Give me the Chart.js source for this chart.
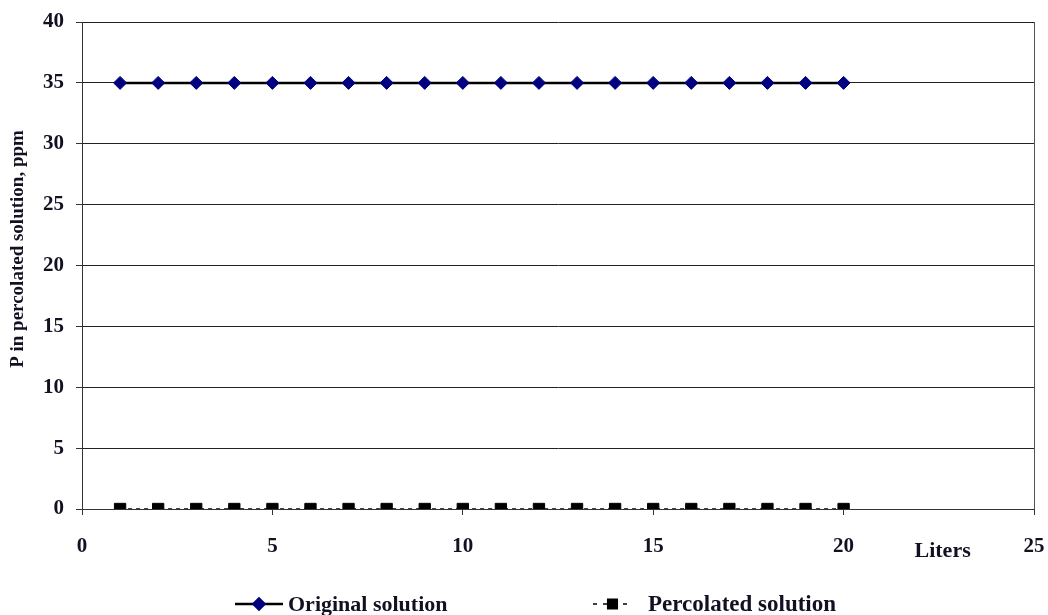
<!DOCTYPE html>
<html lang="en">
<head>
  <meta charset="UTF-8" />
  <title>P in percolated solution</title>
  <script src="https://cdn.jsdelivr.net/npm/chart.js"></script>
  <style>
    html, body { margin: 0; padding: 0; background: #fff; }
    #wrap { width: 1048px; height: 615px; position: relative; }
  </style>
</head>
<body>
  <div id="wrap"><canvas id="pChart"></canvas></div>
  <script>
    // data
    const liters = [1, 2, 3, 4, 5, 6, 7, 8, 9, 10, 11, 12, 13, 14, 15, 16, 17, 18, 19, 20];
    const originalPpm = [35, 35, 35, 35, 35, 35, 35, 35, 35, 35, 35, 35, 35, 35, 35, 35, 35, 35, 35, 35];
    const percolatedPpm = [0, 0, 0, 0, 0, 0, 0, 0, 0, 0, 0, 0, 0, 0, 0, 0, 0, 0, 0, 0];
    const seriesNames = ['Original solution', 'Percolated solution'];
    const xTitle = 'Liters';
    const yTitle = 'P in percolated solution, ppm';

    const serif = '"Liberation Serif", "Times New Roman", serif';
    const ink = '#111122';

    const toPoints = (xs, ys) => xs.map((x, i) => ({ x: x, y: ys[i] }));

    // Liters label, y title + legend, drawn like the Excel original
    const extras = {
      id: 'extras',
      afterDraw(chart) {
        const c = chart.ctx;
        const xs = chart.scales.x;
        c.save();
        c.fillStyle = ink;
        c.font = 'bold 22px ' + serif;
        c.textAlign = 'center';
        c.textBaseline = 'middle';
        c.fillText(xTitle, xs.getPixelForValue(22.6), 551);

        // y title (sits a bit above the plot centre in the original)
        c.save();
        c.translate(18, 249);
        c.rotate(-Math.PI / 2);
        c.font = 'bold 19px ' + serif;
        c.fillText(yTitle, 0, 0);
        c.restore();

        const legendY = 604;
        const items = [
          { x0: 235, len: 48, textX: 288, font: 22 },
          { x0: 593, len: 39, textX: 648, font: 23 }
        ];
        chart.data.datasets.forEach((ds, i) => {
          const it = items[i];
          c.strokeStyle = ds.borderColor;
          c.lineWidth = ds.borderWidth;
          c.setLineDash(ds.borderDash ? [4, 6] : []);
          c.beginPath();
          c.moveTo(it.x0, legendY);
          c.lineTo(it.x0 + it.len, legendY);
          c.stroke();
          c.setLineDash([]);
          c.fillStyle = ds.pointBackgroundColor;
          c.strokeStyle = ds.pointBorderColor;
          Chart.helpers.drawPoint(c, {
            pointStyle: ds.pointStyle,
            radius: ds.pointRadius * 0.85,
            borderWidth: 1
          }, it.x0 + it.len / 2, legendY);
          c.fillStyle = ink;
          c.font = 'bold ' + it.font + 'px ' + serif;
          c.textAlign = 'left';
          c.fillText(ds.label, it.textX, legendY + 1);
        });
        c.restore();
      }
    };

    new Chart(document.getElementById('pChart'), {
      type: 'scatter',
      data: {
        datasets: [
          {
            label: seriesNames[0],
            data: toPoints(liters, originalPpm),
            showLine: true,
            borderColor: '#000000',
            borderWidth: 2.5,
            pointStyle: 'rectRot',
            pointRadius: 6.5,
            pointBackgroundColor: '#000080',
            pointBorderColor: '#000080',
            pointBorderWidth: 1
          },
          {
            label: seriesNames[1],
            data: toPoints(liters, percolatedPpm),
            showLine: true,
            borderColor: '#000000',
            borderWidth: 1.5,
            borderDash: [4, 4],
            pointStyle: 'rect',
            pointRadius: 8,
            pointBackgroundColor: '#000000',
            pointBorderColor: '#000000',
            pointBorderWidth: 1
          }
        ]
      },
      options: {
        responsive: true,
        maintainAspectRatio: false,
        animation: false,
        layout: { padding: { top: 22, right: 14, left: 0, bottom: 0 } },
        plugins: {
          legend: { display: false },
          tooltip: { enabled: false }
        },
        scales: {
          x: {
            type: 'linear',
            min: 0,
            max: 25,
            afterFit: (s) => {
              s.height = 106;
              s.paddingLeft = 0;
              s.paddingRight = 0;
            },
            ticks: {
              stepSize: 5,
              color: ink,
              padding: 19,
              font: { family: serif, size: 21, weight: 'bold' }
            },
            grid: {
              drawOnChartArea: true,
              color: (ctx) => (ctx.tick && ctx.tick.value === 25 ? '#555' : 'rgba(0,0,0,0)'),
              tickColor: '#333',
              tickLength: 6,
              lineWidth: 1
            },
            border: { display: true, color: '#333', width: 1 }
          },
          y: {
            min: 0,
            max: 40,
            afterFit: (s) => {
              s.width = 82;
              s.paddingTop = 0;
              s.paddingBottom = 0;
            },
            ticks: {
              stepSize: 5,
              color: ink,
              padding: 12,
              font: { family: serif, size: 21, weight: 'bold' }
            },
            grid: {
              color: '#222',
              tickColor: '#333',
              tickLength: 6,
              lineWidth: 1
            },
            border: { display: true, color: '#333', width: 1 }
          }
        }
      },
      plugins: [extras]
    });
  </script>
</body>
</html>
